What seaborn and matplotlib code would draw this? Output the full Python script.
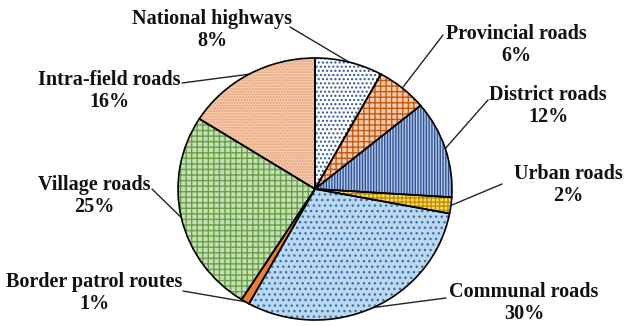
import numpy as np
import matplotlib
matplotlib.use("Agg")
import matplotlib.pyplot as plt
import seaborn as sns

categories = ["National highways", "Provincial roads", "District roads", "Urban roads",
              "Communal roads", "Border patrol routes", "Village roads", "Intra-field roads"]
values = [8, 6, 12, 2, 30, 1, 25, 16]
face_colors = ["#FFFFFF", "#F8CBAD", "#B4C7E7", "#FFD966", "#BDD7EE", "#ED7D31", "#C5E0B4", "#F8CBAD"]
hatch_colors = ["#2F5597", "#C55A11", "#2F5597", "#BF9000", "#2E75B6", "#C55A11", "#6A9F48", "#E0A078"]
hatches = ["....", "+++", "||||||", "++++", "...", "", "+++", "......"]

# label layout (pixel positions of text centers, and leader-line start points)
label_pos = [(212, 30), (516, 45), (548, 106), (568, 185), (524, 303), (94, 293), (94, 196), (109, 91)]
line_start = [(290, 27), (443, 35), (488, 100), (502, 184), (446, 298), (183, 291), (152, 189), (182, 83)]

sns.set_theme(style="white")
plt.rcParams["font.family"] = ["Liberation Serif", "DejaVu Serif"]
plt.rcParams["hatch.linewidth"] = 1.0

W, H = 625, 326
fig = plt.figure(figsize=(W / 100, H / 100), dpi=100)
fig.patch.set_facecolor("white")

overlay = fig.add_axes([0, 0, 1, 1])
overlay.set_xlim(0, W)
overlay.set_ylim(H, 0)
overlay.axis("off")

cx, cy, rx, ry = 315, 189, 137, 131
pax = fig.add_axes([(cx - rx) / W, (H - cy - ry) / H, 2 * rx / W, 2 * ry / H])
wedges, _ = pax.pie(values, startangle=90, counterclock=False, colors=face_colors,
                    wedgeprops=dict(linewidth=0))
for w, hc, h in zip(wedges, hatch_colors, hatches):
    w.set_edgecolor(hc)
    w.set_hatch(h)
outl, _ = pax.pie(values, startangle=90, counterclock=False,
                  wedgeprops=dict(edgecolor="black", linewidth=1.2, fill=False))
pax.set_aspect("auto")
pax.set_xlim(-1, 1)
pax.set_ylim(-1, 1)
pax.axis("off")

fig.canvas.draw()
inv = overlay.transData.inverted()
for w, cat, v, lp, ls in zip(wedges, categories, values, label_pos, line_start):
    mid = np.deg2rad((w.theta1 + w.theta2) / 2)
    disp = pax.transData.transform((np.cos(mid), np.sin(mid)))
    px, py = inv.transform(disp)
    overlay.plot([ls[0], px], [ls[1], py], color="#222222", lw=1.0, solid_capstyle="round")
    overlay.text(lp[0], lp[1], f"{cat}\n{v}%", ha="center", va="center", fontsize=14.5,
                 fontweight="bold", color="#111111", linespacing=1.1)

fig.savefig("out.png", dpi=100)
